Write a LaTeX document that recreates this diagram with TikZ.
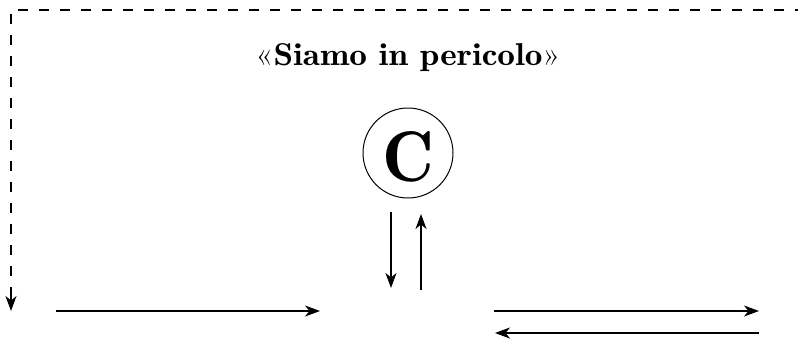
\documentclass[tikz,border=0pt]{standalone}
\usepackage{fontspec}
\newfontfamily\demifont{lmromandemi10-regular.otf}
\usetikzlibrary{arrows.meta}
\begin{document}
\begin{tikzpicture}[x=1pt,y=-1pt,
  line width=1.2pt,
  tip/.style={-{Stealth[length=15pt,width=11pt,inset=4.5pt]}},
  dashline/.style={dash pattern=on 10pt off 11pt},
  title/.style={inner sep=0pt,font=\demifont\fontsize{25}{30}\selectfont},
  cnode/.style={circle,draw,line width=1pt,minimum size=90pt,inner sep=0pt}]
\useasboundingbox (0,0) rectangle (798,343);
\node[title,anchor=base] (t) at (408,65) {\resizebox{305pt}{22pt}{{\rmfamily«}Siamo in pericolo{\rmfamily»}}};
\node[cnode] (c) at (408,153) {};
\node[inner sep=0pt] (cl) at (408,157) {\demifont\resizebox{!}{50pt}{C}};
\coordinate (ds) at (805,10);
\coordinate (dc) at (11,10);
\coordinate (de) at (11,311);
\draw[dashline] (ds) -- (dc) -- (11,296);
\draw[tip] (11,290) -- (de);
\coordinate (a1s) at (56,311);
\coordinate (a1e) at (320,311);
\draw[tip] (a1s) -- (a1e);
\coordinate (d1s) at (391,212);
\coordinate (d1e) at (391,288);
\draw[tip] (d1s) -- (d1e);
\coordinate (u1s) at (421,290);
\coordinate (u1e) at (421,214);
\draw[tip] (u1s) -- (u1e);
\coordinate (r1s) at (494,311);
\coordinate (r1e) at (759,311);
\draw[tip] (r1s) -- (r1e);
\coordinate (l1s) at (759,333);
\coordinate (l1e) at (495,333);
\draw[tip] (l1s) -- (l1e);
\end{tikzpicture}
\end{document}
